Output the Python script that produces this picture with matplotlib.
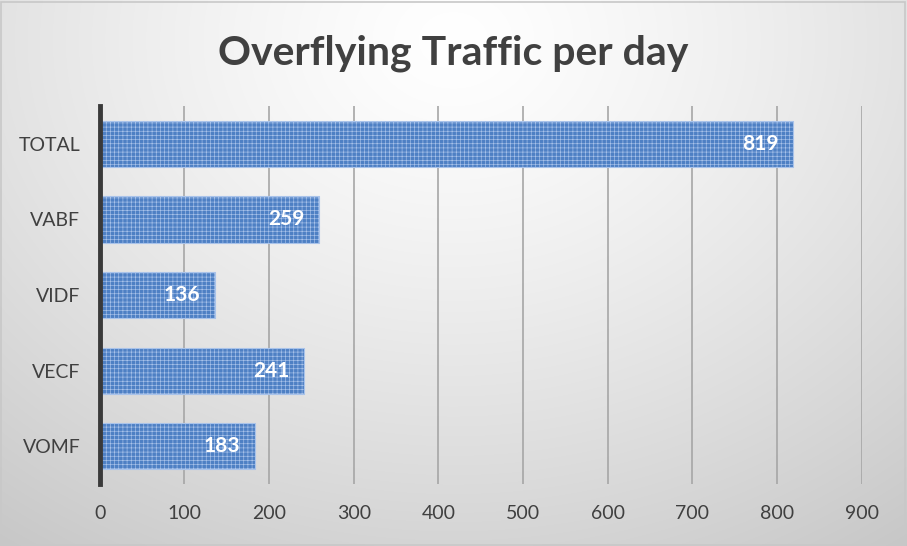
import numpy as np
import matplotlib
matplotlib.use("Agg")
from matplotlib import pyplot as plt
from matplotlib.patches import Rectangle

categories = ["VOMF", "VECF", "VIDF", "VABF", "TOTAL"]
values = [183, 241, 136, 259, 819]
xticks = [0, 100, 200, 300, 400, 500, 600, 700, 800, 900]

plt.rcParams["font.family"] = ["Lato", "DejaVu Sans"]
plt.rcParams["hatch.linewidth"] = 0.45

fig = plt.figure(figsize=(9.07, 5.46), dpi=100)

# radial gradient background
bg = fig.add_axes([0, 0, 1, 1], zorder=-10)
yy, xx = np.mgrid[0:546, 0:907]
d = np.sqrt(((xx - 453) / 907) ** 2 + ((yy - 40) / 546) ** 2 * 0.55)
d = d / d.max()
shade = 1.0 - 0.22 * d ** 1.3
bg.imshow(np.dstack([shade, shade, shade]), aspect="auto", extent=[0, 1, 0, 1], origin="upper")
bg.add_patch(Rectangle((0.001, 0.002), 0.997, 0.995, fill=False, edgecolor="#c8c8c8", linewidth=1.2, transform=bg.transAxes))
bg.set_xlim(0, 1)
bg.set_ylim(0, 1)
bg.axis("off")

ax = fig.add_axes([0.110, 0.1136, 0.840, 0.692])
ax.patch.set_alpha(0)
bars = ax.barh(categories, values, height=0.61, color="#4e80c4", edgecolor="#a9c3ea", linewidth=0.8, hatch="++++", zorder=3)
for b, v in zip(bars, values):
    ax.text(b.get_width() - 17, b.get_y() + b.get_height() / 2, str(v), ha="right", va="center",
            color="white", fontsize=15, fontweight="bold", zorder=4)

ax.set_xlim(0, 900)
ax.set_ylim(-0.5, 4.5)
ax.set_xticks(xticks)
ax.grid(axis="x", color="#a6a6a6", linewidth=1.2, zorder=0)
ax.tick_params(axis="both", length=0, labelsize=14, labelcolor="#404040")
ax.tick_params(axis="y", pad=14)
ax.tick_params(axis="x", pad=15)
for s in ["top", "right", "bottom"]:
    ax.spines[s].set_visible(False)
ax.spines["left"].set_color("#3a3a3a")
ax.spines["left"].set_linewidth(3.5)
ax.spines["left"].set_zorder(5)

fig.text(0.5, 0.903, "Overflying Traffic per day", ha="center", va="center",
         fontsize=29.5, fontweight="bold", color="#404040")

fig.savefig("out.png", dpi=100)
